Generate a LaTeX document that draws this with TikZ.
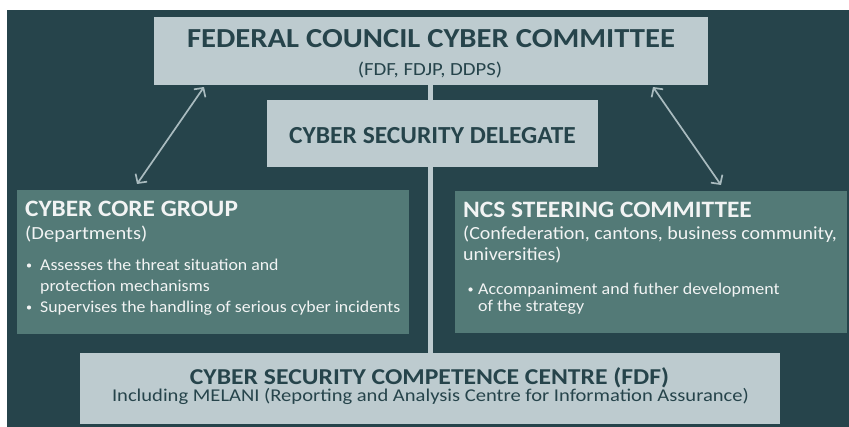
\documentclass[tikz,border=0pt]{standalone}
\usepackage{fontspec}
\usepackage{graphicx}
\setmainfont{Carlito}
\usetikzlibrary{arrows.meta}
\definecolor{bgdark}{HTML}{26444B}
\definecolor{boxlight}{HTML}{BDCBCF}
\definecolor{boxmid}{HTML}{537A77}
\definecolor{inktext}{HTML}{26444B}
\definecolor{paletext}{HTML}{F2F4F4}
\definecolor{linkcol}{HTML}{A9BBBF}
% font size, then horizontal stretch of the set text
\newcommand{\wtext}[3]{\fontsize{#1}{#1}\selectfont\scalebox{#2}[1]{#3}}
\tikzset{
  lightbox/.style={fill=boxlight, draw=none, inner sep=0pt},
  midbox/.style={fill=boxmid, draw=none, inner sep=0pt},
  darklabel/.style={text=inktext, inner sep=0pt, anchor=base},
  palelabel/.style={text=paletext, inner sep=0pt, anchor=base west},
  bulletdot/.style={circle, fill=paletext, inner sep=0pt, minimum size=4.2pt},
  twoway/.style={draw=linkcol, line width=1.7pt, {Straight Barb[length=6.5pt,width=14pt]}-{Straight Barb[length=6.5pt,width=14pt]}},
  spine/.style={draw=boxlight, line width=4.5pt}
}
\begin{document}
\begin{tikzpicture}[x=1pt, y=-1pt]
  \useasboundingbox (0,0) rectangle (849,427);
  \fill[bgdark] (7,10) rectangle (849,427);

  % boxes
  \node[lightbox, minimum width=554pt, minimum height=68pt] (council) at (431,51) {};
  \node[lightbox, minimum width=700pt, minimum height=71pt] (centre) at (430,388.5) {};
  \draw[spine] (council.south -| 430.5,0) -- (centre.north -| 430.5,0);
  \node[lightbox, minimum width=331pt, minimum height=67pt] (delegate) at (432.5,133.5) {};
  \node[midbox, minimum width=392pt, minimum height=144pt] (core) at (213,262) {};
  \node[midbox, minimum width=392pt, minimum height=142pt] (steer) at (651,262) {};

  % two-way links
  \coordinate (cA) at (204,87);
  \coordinate (cB) at (137,184);
  \coordinate (sA) at (653,87);
  \coordinate (sB) at (721,185);
  \draw[twoway] (cB) -- (cA);
  \draw[twoway] (sB) -- (sA);

  % federal council cyber committee
  \node[darklabel] (councilT) at (431,47.3) {\bfseries\wtext{27.5}{1.115}{FEDERAL COUNCIL CYBER COMMITTEE}};
  \node[darklabel] (councilS) at (430,76) {\wtext{18.5}{1.12}{(FDF, FDJP, DDPS)}};

  % delegate
  \node[darklabel] (delegateT) at (432.5,143.3) {\bfseries\wtext{24.5}{1.04}{CYBER SECURITY DELEGATE}};

  % cyber core group
  \node[palelabel] (coreT) at (25,217) {\bfseries\wtext{23.5}{1.076}{CYBER CORE GROUP}};
  \node[palelabel] (coreS) at (25,240) {\wtext{18.5}{1.11}{(Departments)}};
  \node[bulletdot] (coreB1) at (29,265.5) {};
  \node[palelabel] (coreL1) at (40,271) {\wtext{16.5}{1.08}{Assesses the threat situation and}};
  \node[palelabel] (coreL2) at (40,292) {\wtext{16.5}{1.08}{protection mechanisms}};
  \node[bulletdot] (coreB2) at (29,307.5) {};
  \node[palelabel] (coreL3) at (40,313) {\wtext{16.5}{1.08}{Supervises the handling of serious cyber incidents}};

  % ncs steering committee
  \node[palelabel] (steerT) at (463,217.3) {\bfseries\wtext{23.5}{1.081}{NCS STEERING COMMITTEE}};
  \node[palelabel] (steerS1) at (463,240) {\wtext{18.5}{1.08}{(Confederation, cantons, business community,}};
  \node[palelabel] (steerS2) at (463,261) {\wtext{18.5}{1.08}{universities)}};
  \node[bulletdot] (steerB1) at (470.5,289.5) {};
  \node[palelabel] (steerL1) at (478,295) {\wtext{16.5}{1.089}{Accompaniment and futher development}};
  \node[palelabel] (steerL2) at (478,311.7) {\wtext{16.5}{1.089}{of the strategy}};

  % competence centre
  \node[darklabel] (centreT) at (429.5,384.3) {\bfseries\wtext{22.7}{1.13}{CYBER SECURITY COMPETENCE CENTRE (FDF)}};
  \node[darklabel] (centreS) at (430.5,401.7) {\wtext{18}{1.143}{Including MELANI (Reporting and Analysis Centre for Information Assurance)}};
\end{tikzpicture}
\end{document}
